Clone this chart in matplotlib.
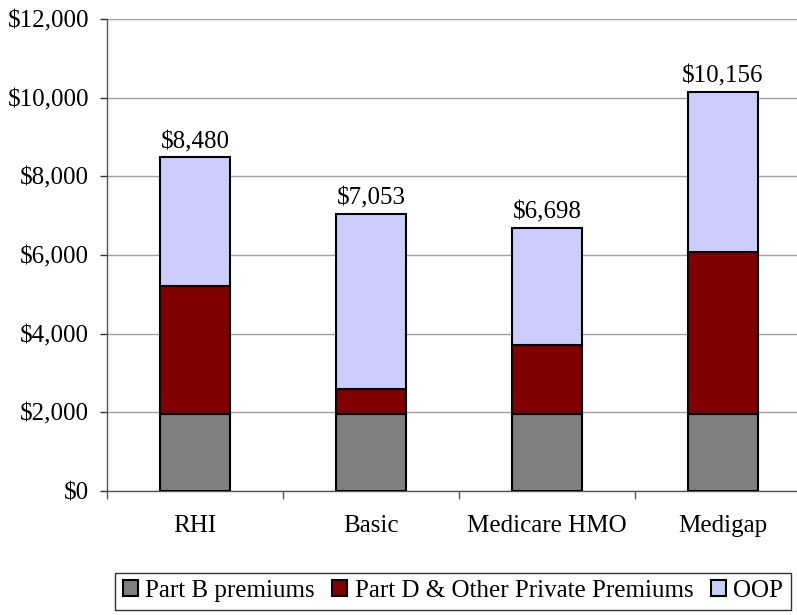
import numpy as np
import matplotlib.pyplot as plt
from matplotlib.ticker import FuncFormatter

categories = ['RHI', 'Basic', 'Medicare HMO', 'Medigap']
totals = [8480, 7053, 6698, 10156]
part_b = [1970, 1970, 1970, 1970]
part_d = [3250, 620, 1730, 4115]
oop = [t - b - d for t, b, d in zip(totals, part_b, part_d)]
total_labels = ['$8,480', '$7,053', '$6,698', '$10,156']

plt.rcParams['font.family'] = ['Liberation Serif', 'DejaVu Serif']
fs = 18

W, H = 797, 615
fig = plt.figure(figsize=(W / 100, H / 100), dpi=100)
ax = fig.add_axes([107 / W, (H - 491) / H, (811 - 107) / W, 472 / H])

x = np.arange(len(categories))
bw = 0.4
kw = dict(width=bw, edgecolor='black', linewidth=1.5, zorder=3)
ax.bar(x, part_b, color='#808080', label='Part B premiums', **kw)
ax.bar(x, part_d, bottom=part_b, color='#800000',
       label='Part D & Other Private Premiums', **kw)
ax.bar(x, oop, bottom=np.add(part_b, part_d), color='#CCCCFF', label='OOP', **kw)

for xi, t, lab in zip(x, totals, total_labels):
    ax.text(xi, t + 100, lab, ha='center', va='bottom', fontsize=fs)

ax.set_xlim(-0.5, len(categories) - 0.5)
ax.set_ylim(0, 12000)
ax.set_yticks(np.arange(0, 12001, 2000))
ax.yaxis.set_major_formatter(FuncFormatter(lambda v, p: f'${v:,.0f}'))
ax.yaxis.grid(True, color='#a0a0a0', linewidth=1, zorder=0)
ax.set_axisbelow(True)

ax.set_xticks(x)
ax.set_xticklabels(categories)
ax.set_xticks(np.arange(-0.5, len(categories)), minor=True)
ax.tick_params(axis='x', which='major', length=0, pad=17, labelsize=fs)
ax.tick_params(axis='x', which='minor', length=6, width=1, color='#555555')
ax.tick_params(axis='y', length=5, width=1, color='#333333', pad=8, labelsize=fs)

for s in ['top', 'right']:
    ax.spines[s].set_visible(False)
for s in ['left', 'bottom']:
    ax.spines[s].set_color('#555555')
    ax.spines[s].set_linewidth(1)

leg = fig.legend(loc='center', bbox_to_anchor=(453 / W, 1 - 591 / H), ncol=3,
                 fontsize=18, frameon=True, fancybox=False, edgecolor='black',
                 handlelength=0.6, handleheight=0.6, handletextpad=0.3,
                 columnspacing=0.7, borderpad=0.3)
leg.get_frame().set_linewidth(1)

fig.savefig('out.png', dpi=100)
